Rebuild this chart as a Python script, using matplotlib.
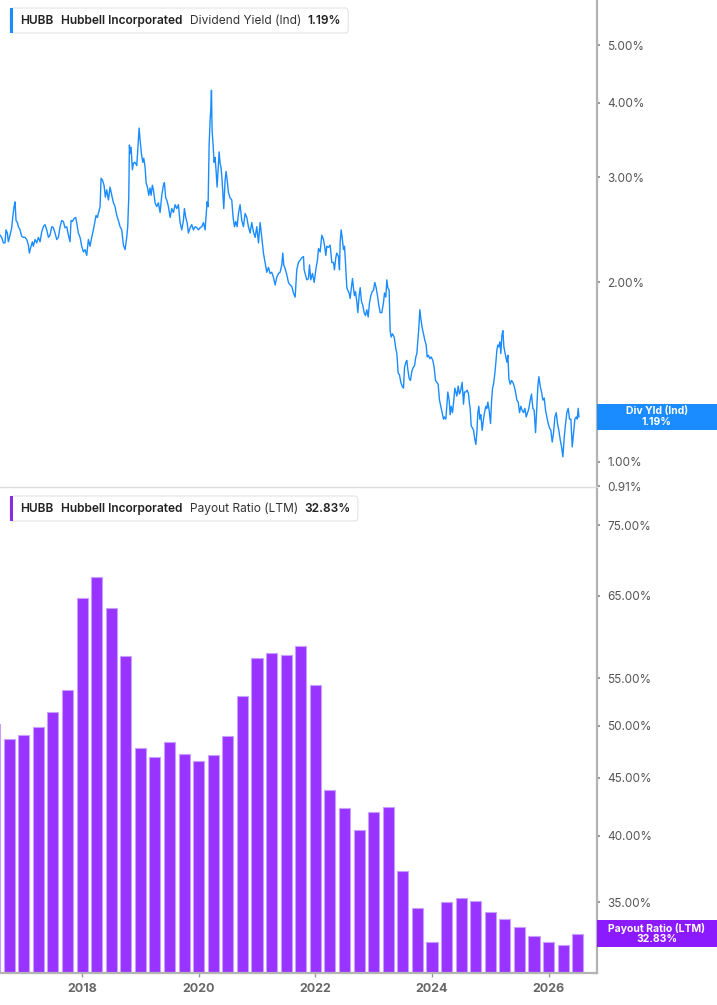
import matplotlib
matplotlib.use("Agg")
import matplotlib.pyplot as plt
from matplotlib.patches import FancyBboxPatch, Rectangle
from matplotlib.ticker import NullLocator

plt.rcParams['font.family'] = ['Inter', 'DejaVu Sans']

# ---------------- data ----------------
div_dates = [
    2016.594, 2016.622, 2016.651, 2016.679, 2016.696, 2016.719, 2016.736, 2016.765, 2016.794, 2016.811,
    2016.834, 2016.851, 2016.868, 2016.891, 2016.908, 2016.937, 2016.965, 2016.994, 2017.022, 2017.051,
    2017.080, 2017.097, 2017.120, 2017.148, 2017.165, 2017.194, 2017.222, 2017.251, 2017.280, 2017.308,
    2017.337, 2017.365, 2017.394, 2017.423, 2017.451, 2017.480, 2017.508, 2017.537, 2017.566, 2017.594,
    2017.623, 2017.651, 2017.680, 2017.708, 2017.737, 2017.766, 2017.794, 2017.811, 2017.834, 2017.863,
    2017.891, 2017.908, 2017.937, 2017.966, 2017.994, 2018.023, 2018.051, 2018.080, 2018.109, 2018.137,
    2018.166, 2018.194, 2018.223, 2018.240, 2018.263, 2018.280, 2018.309, 2018.326, 2018.349, 2018.377,
    2018.400, 2018.423, 2018.452, 2018.480, 2018.509, 2018.538, 2018.566, 2018.595, 2018.623, 2018.652,
    2018.680, 2018.709, 2018.738, 2018.766, 2018.783, 2018.801, 2018.812, 2018.823, 2018.841, 2018.863,
    2018.881, 2018.909, 2018.938, 2018.955, 2018.978, 2018.995, 2019.018, 2019.041, 2019.058, 2019.081,
    2019.098, 2019.121, 2019.144, 2019.166,
    2019.184, 2019.206, 2019.224, 2019.252, 2019.281, 2019.309, 2019.338, 2019.367, 2019.395, 2019.412,
    2019.435, 2019.452, 2019.481, 2019.510, 2019.538, 2019.567, 2019.595, 2019.624, 2019.652, 2019.681,
    2019.710, 2019.738, 2019.755, 2019.778, 2019.801, 2019.824, 2019.853, 2019.881, 2019.910, 2019.938,
    2019.967, 2019.996, 2020.024, 2020.053, 2020.081, 2020.110, 2020.127, 2020.144, 2020.161, 2020.179,
    2020.196, 2020.207, 2020.219, 2020.230, 2020.247, 2020.264, 2020.281, 2020.299, 2020.316, 2020.333,
    2020.350, 2020.367, 2020.384, 2020.401, 2020.419, 2020.430, 2020.453, 2020.470, 2020.493, 2020.510,
    2020.539, 2020.567, 2020.590, 2020.613, 2020.636, 2020.659, 2020.682, 2020.710, 2020.739, 2020.767,
    2020.796, 2020.825, 2020.853, 2020.882, 2020.910, 2020.939, 2020.968, 2020.996, 2021.025, 2021.053,
    2021.082, 2021.110, 2021.139, 2021.168, 2021.196, 2021.225, 2021.253, 2021.282, 2021.311, 2021.339,
    2021.368, 2021.396, 2021.425, 2021.442, 2021.459, 2021.482, 2021.511, 2021.539, 2021.568, 2021.596,
    2021.625, 2021.654,
    2021.682, 2021.711, 2021.739, 2021.768, 2021.797, 2021.808, 2021.825, 2021.854, 2021.882, 2021.900,
    2021.922, 2021.951, 2021.980, 2022.014, 2022.037, 2022.054, 2022.083, 2022.111, 2022.140, 2022.157,
    2022.180, 2022.197, 2022.225, 2022.254, 2022.283, 2022.311, 2022.328, 2022.351, 2022.368, 2022.397,
    2022.414, 2022.426, 2022.443, 2022.460, 2022.483, 2022.500, 2022.517, 2022.540, 2022.557, 2022.580,
    2022.597, 2022.614, 2022.637, 2022.654, 2022.671, 2022.689, 2022.711, 2022.729, 2022.751, 2022.769,
    2022.791, 2022.814, 2022.837, 2022.860, 2022.883, 2022.906, 2022.929, 2022.952, 2022.974, 2022.997,
    2023.020, 2023.043, 2023.066, 2023.089, 2023.112, 2023.140, 2023.169, 2023.186, 2023.209, 2023.226,
    2023.243, 2023.266, 2023.283, 2023.300, 2023.323, 2023.352, 2023.380, 2023.398, 2023.420, 2023.443,
    2023.466, 2023.489, 2023.512, 2023.529, 2023.552, 2023.569, 2023.586, 2023.609, 2023.632, 2023.655,
    2023.678, 2023.701, 2023.723, 2023.741, 2023.758, 2023.775, 2023.792, 2023.809, 2023.832, 2023.855,
    2023.878, 2023.901, 2023.918, 2023.941, 2023.963, 2023.986, 2024.015, 2024.038, 2024.061, 2024.084,
    2024.106, 2024.129,
    2024.152, 2024.175, 2024.198, 2024.215, 2024.238, 2024.255, 2024.272, 2024.295, 2024.312, 2024.330,
    2024.352, 2024.375, 2024.392, 2024.410, 2024.427, 2024.450, 2024.472, 2024.495, 2024.518, 2024.541,
    2024.558, 2024.581, 2024.604, 2024.627, 2024.644, 2024.655, 2024.673, 2024.695, 2024.713, 2024.735,
    2024.753, 2024.770, 2024.787, 2024.804, 2024.821, 2024.838, 2024.861, 2024.884, 2024.901, 2024.924,
    2024.941, 2024.958, 2024.981, 2025.004, 2025.021, 2025.039, 2025.056, 2025.079, 2025.096, 2025.113,
    2025.130, 2025.147, 2025.164, 2025.181, 2025.199, 2025.216, 2025.233, 2025.250, 2025.267, 2025.284,
    2025.302, 2025.319, 2025.342, 2025.364, 2025.387, 2025.410, 2025.433, 2025.456, 2025.479, 2025.502,
    2025.524, 2025.547, 2025.570, 2025.593, 2025.616, 2025.639, 2025.662, 2025.685, 2025.707, 2025.730,
    2025.753, 2025.776, 2025.799, 2025.816, 2025.833, 2025.856, 2025.879, 2025.902, 2025.925, 2025.948,
    2025.970, 2025.993, 2026.016, 2026.039, 2026.062, 2026.085, 2026.108, 2026.131, 2026.153, 2026.176,
    2026.199, 2026.222, 2026.245, 2026.268, 2026.291, 2026.313, 2026.336, 2026.359, 2026.382, 2026.405,
    2026.428, 2026.451, 2026.474, 2026.491, 2026.508, 2026.519,
]

div_yield = [
    2.40, 2.38, 2.33, 2.33, 2.45, 2.42, 2.34, 2.40, 2.47, 2.57,
    2.68, 2.73, 2.54, 2.52, 2.48, 2.45, 2.39, 2.38, 2.38, 2.36,
    2.31, 2.24, 2.29, 2.34, 2.30, 2.36, 2.33, 2.38, 2.34, 2.43,
    2.48, 2.50, 2.45, 2.38, 2.40, 2.48, 2.47, 2.42, 2.36, 2.38,
    2.48, 2.54, 2.53, 2.47, 2.48, 2.40, 2.34, 2.54, 2.53, 2.56,
    2.57, 2.52, 2.42, 2.38, 2.30, 2.25, 2.27, 2.22, 2.36, 2.30,
    2.38, 2.45, 2.54, 2.59, 2.57, 2.61, 2.68, 2.99, 2.97, 2.91,
    2.78, 2.86, 2.75, 2.89, 2.80, 2.72, 2.68, 2.59, 2.54, 2.48,
    2.45, 2.31, 2.27, 2.38, 2.48, 2.78, 3.40, 3.29, 3.37, 3.09,
    3.17, 3.18, 3.14, 3.33, 3.63, 3.47, 3.29, 3.18, 3.23, 3.12,
    2.94, 2.89, 2.80, 2.88,
    2.80, 2.91, 2.86, 2.72, 2.68, 2.72, 2.62, 2.80, 2.91, 2.94,
    2.77, 2.75, 2.68, 2.57, 2.66, 2.62, 2.70, 2.66, 2.70, 2.52,
    2.45, 2.54, 2.66, 2.57, 2.52, 2.42, 2.47, 2.50, 2.45, 2.48,
    2.47, 2.45, 2.47, 2.48, 2.52, 2.45, 2.59, 2.73, 2.68, 3.40,
    3.74, 3.89, 4.20, 3.60, 3.40, 3.18, 3.24, 3.07, 2.89, 3.09,
    3.31, 3.17, 3.11, 2.97, 2.78, 2.66, 2.97, 3.07, 2.94, 2.83,
    2.77, 2.75, 2.57, 2.48, 2.53, 2.48, 2.61, 2.70, 2.54, 2.48,
    2.61, 2.57, 2.48, 2.42, 2.52, 2.43, 2.38, 2.48, 2.33, 2.52,
    2.38, 2.24, 2.16, 2.08, 2.12, 2.07, 2.08, 2.04, 1.98, 2.04,
    2.07, 2.08, 2.14, 2.24, 2.14, 2.11, 2.06, 2.00, 1.98, 1.97,
    1.92, 1.89,
    2.10, 2.16, 2.18, 2.20, 2.21, 2.10, 2.07, 2.02, 2.03, 2.14,
    2.02, 2.07, 2.00, 2.12, 2.18, 2.28, 2.25, 2.40, 2.36, 2.31,
    2.22, 2.30, 2.29, 2.31, 2.16, 2.16, 2.10, 2.20, 2.24, 2.21,
    2.10, 2.34, 2.45, 2.38, 2.27, 2.30, 2.16, 1.96, 1.94, 1.92,
    1.88, 1.94, 2.03, 1.96, 1.90, 1.93, 1.86, 1.78, 1.90, 1.96,
    1.86, 1.83, 1.78, 1.76, 1.80, 1.75, 1.85, 1.90, 1.93, 1.94,
    2.00, 1.96, 1.90, 1.83, 1.78, 1.78, 1.85, 1.92, 1.89, 2.02,
    1.96, 1.94, 1.66, 1.62, 1.64, 1.62, 1.55, 1.52, 1.41, 1.40,
    1.36, 1.34, 1.33, 1.44, 1.47, 1.48, 1.43, 1.38, 1.37, 1.42,
    1.44, 1.45, 1.50, 1.52, 1.60, 1.68, 1.80, 1.74, 1.68, 1.64,
    1.60, 1.57, 1.50, 1.51, 1.49, 1.50, 1.48, 1.44, 1.37, 1.36,
    1.35, 1.27,
    1.24, 1.21, 1.18, 1.19, 1.18, 1.24, 1.31, 1.27, 1.20, 1.24,
    1.21, 1.27, 1.33, 1.31, 1.29, 1.34, 1.30, 1.32, 1.36, 1.25,
    1.31, 1.31, 1.32, 1.30, 1.25, 1.23, 1.15, 1.14, 1.13, 1.09,
    1.07, 1.12, 1.21, 1.24, 1.18, 1.20, 1.13, 1.18, 1.21, 1.24,
    1.23, 1.26, 1.22, 1.16, 1.26, 1.33, 1.35, 1.41, 1.47, 1.54,
    1.57, 1.56, 1.59, 1.52, 1.63, 1.66, 1.56, 1.53, 1.50, 1.47,
    1.51, 1.38, 1.35, 1.37, 1.36, 1.34, 1.31, 1.27, 1.26, 1.21,
    1.24, 1.22, 1.21, 1.23, 1.19, 1.21, 1.23, 1.27, 1.30, 1.23,
    1.22, 1.12, 1.24, 1.34, 1.39, 1.34, 1.31, 1.27, 1.28, 1.22,
    1.19, 1.16, 1.14, 1.13, 1.08, 1.12, 1.19, 1.21, 1.16, 1.13,
    1.09, 1.06, 1.02, 1.10, 1.16, 1.21, 1.23, 1.18, 1.18, 1.06,
    1.12, 1.18, 1.19, 1.18, 1.23, 1.19,
]

payout_dates = [
    2016.50, 2016.75, 2017.00, 2017.25, 2017.50, 2017.75, 2018.00, 2018.25, 2018.50, 2018.75,
    2019.00, 2019.25, 2019.50, 2019.75, 2020.00, 2020.25, 2020.50, 2020.75, 2021.00, 2021.25,
    2021.50, 2021.75, 2022.00, 2022.25, 2022.50, 2022.75, 2023.00, 2023.25, 2023.50, 2023.75,
    2024.00, 2024.25, 2024.50, 2024.75, 2025.00, 2025.25, 2025.50, 2025.75, 2026.00, 2026.25,
    2026.50,
]
payout_ratio = [
    50.2, 48.7, 49.1, 49.9, 51.4, 53.7, 64.7, 67.5, 63.4, 57.5,
    47.8, 46.9, 48.4, 47.2, 46.5, 47.1, 49.0, 53.1, 57.3, 57.9,
    57.7, 58.7, 54.3, 43.9, 42.3, 40.5, 42.0, 42.4, 37.3, 34.6,
    32.3, 35.0, 35.3, 35.1, 34.3, 33.8, 33.3, 32.7, 32.3, 32.1,
    32.83,
]

yield_ticks = [0.91, 1.0, 2.0, 3.0, 4.0, 5.0]
yield_labels = ["0.91%", "1.00%", "2.00%", "3.00%", "4.00%", "5.00%"]
payout_ticks = [35, 40, 45, 50, 55, 65, 75]
payout_labels = ["35.00%", "40.00%", "45.00%", "50.00%", "55.00%", "65.00%", "75.00%"]
year_ticks = [2018, 2020, 2022, 2024, 2026]
year_labels = ["2018", "2020", "2022", "2024", "2026"]

last_yield = 1.19
last_payout = 32.83

# ---------------- styles ----------------
BLUE = '#1a8cff'
PURPLE = '#9933ff'
PURPLE_BOX = '#8c1aff'
SPINE = '#b3b3b3'
TICKLBL = '#555555'

W, H = 717, 1005
fig = plt.figure(figsize=(W / 100, H / 100), dpi=100)
renderer = fig.canvas.get_renderer()


def fx(px):
    return px / W


def fy(py):
    return 1 - py / H


ax1 = fig.add_axes([0, fy(487), fx(597), fy(0) - fy(487)])
ax2 = fig.add_axes([0, fy(973), fx(597), fy(489) - fy(973)])

XMIN, XMAX = 2016.593, 2026.83

# top: dividend yield line
ax1.plot(div_dates, div_yield, color=BLUE, lw=1.0, solid_joinstyle='round')
ax1.set_yscale('log')
ax1.set_ylim(0.908, 5.95)
ax1.set_xlim(XMIN, XMAX)

# bottom: payout bars
ax2.bar(payout_dates, [v - 25 for v in payout_ratio], bottom=25, width=0.19,
        color=PURPLE, edgecolor='#c7a0ff', linewidth=0.8)
ax2.set_yscale('log')
ax2.set_ylim(30.32, 80.67)
ax2.set_xlim(XMIN, XMAX)

for ax, ticks, labels in ((ax1, yield_ticks, yield_labels), (ax2, payout_ticks, payout_labels)):
    ax.yaxis.tick_right()
    ax.set_yticks(ticks)
    ax.set_yticklabels(labels)
    ax.yaxis.set_minor_locator(NullLocator())
    ax.tick_params(axis='y', which='major', direction='out', length=2.5, width=1.2,
                   color='#888888', pad=5, labelsize=8.5, labelcolor=TICKLBL)
    ax.spines['top'].set_visible(False)
    ax.spines['left'].set_visible(False)
    ax.spines['right'].set_color(SPINE)
    ax.spines['right'].set_linewidth(1.6)
    ax.set_facecolor('white')

ax1.spines['bottom'].set_color('#dcdcdc')
ax1.spines['bottom'].set_linewidth(1.0)
ax1.tick_params(axis='x', which='both', bottom=False, labelbottom=False)
ax1.xaxis.set_minor_locator(NullLocator())

ax2.spines['bottom'].set_color(SPINE)
ax2.spines['bottom'].set_linewidth(1.6)
ax2.set_xticks(year_ticks)
ax2.set_xticklabels(year_labels, fontweight='bold')
ax2.xaxis.set_minor_locator(NullLocator())
ax2.tick_params(axis='x', which='major', direction='out', length=3, width=1,
                color='#999999', pad=4, labelsize=9, labelcolor='#666666')


# ---------------- legends ----------------
def legend(ytop, ybot, accent, pieces):
    yc = fy((ytop + ybot) / 2 + 0.5)
    prev_end = 0
    for xpos, text, weight, color in pieces:
        x0 = max(xpos, prev_end + 6)
        t = fig.text(fx(x0), yc, text, ha='left', va='center', fontsize=8.6,
                     fontweight=weight, color=color, zorder=7)
        prev_end = t.get_window_extent(renderer=renderer).x1
    xright = prev_end + 7
    box = FancyBboxPatch((fx(10), fy(ybot)), fx(xright) - fx(10), fy(ytop) - fy(ybot),
                         boxstyle='round,pad=0,rounding_size=0.004',
                         transform=fig.transFigure, facecolor='white',
                         edgecolor='#e4e4e4', lw=0.8, zorder=5)
    fig.patches.append(box)
    acc = Rectangle((fx(10), fy(ybot)), fx(13) - fx(10), fy(ytop) - fy(ybot),
                    transform=fig.transFigure, facecolor=accent, edgecolor='none', zorder=6)
    fig.patches.append(acc)


legend(8, 33, BLUE, [
    (20.5, "HUBB", 'semibold', '#222222'),
    (61, "Hubbell Incorporated", 'semibold', '#222222'),
    (190.5, "Dividend Yield (Ind)", 'normal', '#333333'),
    (305.5, f"{last_yield:.2f}%", 'semibold', '#222222'),
])
legend(496, 521, '#8a2be2', [
    (20.5, "HUBB", 'semibold', '#222222'),
    (61, "Hubbell Incorporated", 'semibold', '#222222'),
    (190.5, "Payout Ratio (LTM)", 'normal', '#333333'),
    (301, f"{last_payout:.2f}%", 'semibold', '#222222'),
])


# ---------------- right value boxes ----------------
def value_box(ax, value, color, line1, line2, height_px):
    yc_disp = ax.transData.transform((2020.0, value))[1]
    yc = yc_disp / H
    h = height_px / H
    rect = Rectangle((fx(597), yc - h / 2), fx(717) - fx(597), h, transform=fig.transFigure,
                     facecolor=color, edgecolor='none', zorder=8)
    fig.patches.append(rect)
    fig.text(fx(657), yc + 5.5 / H, line1, ha='center', va='center', fontsize=7.5,
             fontweight='bold', color='white', zorder=9)
    fig.text(fx(657), yc - 5.5 / H, line2, ha='center', va='center', fontsize=7.5,
             fontweight='bold', color='white', zorder=9)


value_box(ax1, last_yield, BLUE, "Div Yld (Ind)", f"{last_yield:.2f}%", 26)
value_box(ax2, last_payout, PURPLE_BOX, "Payout Ratio (LTM)", f"{last_payout:.2f}%", 27)

fig.savefig('out.png', dpi=100, facecolor='white')
